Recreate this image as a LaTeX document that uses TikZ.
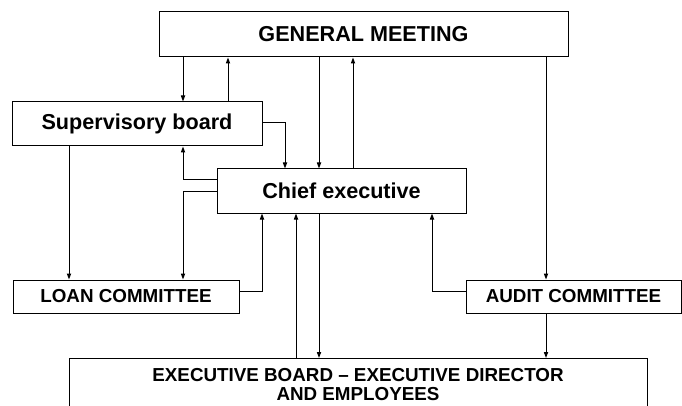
\documentclass[tikz,border=0pt]{standalone}
\usepackage{fontspec}
\setmainfont{Liberation Sans}
\usetikzlibrary{arrows.meta}
\tikzset{
  box/.style={draw=black, line width=1pt, fill=white, inner sep=0pt, font=\bfseries},
  bigtxt/.style={font=\fontsize{21.6}{23}\selectfont\bfseries},
  smalltxt/.style={font=\fontsize{18.8}{18.6}\selectfont\bfseries},
  arr/.style={draw=black, line width=1pt, -{Triangle[length=6pt,width=4.2pt]}},
  ln/.style={draw=black, line width=1pt}
}
\begin{document}
\begin{tikzpicture}[x=1pt,y=-1pt]
\useasboundingbox (0,0) rectangle (682,406);
\clip (0,0) rectangle (682,406);
% x positions of vertical connectors
\coordinate (xa) at (183,0);
\coordinate (xb) at (228,0);
\coordinate (xc) at (285,0);
\coordinate (xd) at (319,0);
\coordinate (xe) at (353,0);
\coordinate (xf) at (546,0);
\coordinate (xg) at (69,0);
\coordinate (xh) at (262,0);
\coordinate (xi) at (296,0);
\coordinate (xj) at (432,0);
% y levels
\coordinate (yup) at (0,180);
\coordinate (ycom) at (0,291);
\coordinate (ysb) at (0,123);
% nodes
\node[box, bigtxt, minimum width=409pt, minimum height=45pt] (GM) at (363.5,34.5) {GENERAL MEETING};
\node[box, bigtxt, minimum width=250pt, minimum height=44pt] (SB) at (137,124) {Supervisory board};
\node[box, bigtxt, minimum width=249pt, minimum height=44pt] (CE) at (341.5,191) {Chief executive};
\node[box, smalltxt, minimum width=226pt, minimum height=33pt] (LC) at (126,296.5) {LOAN COMMITTEE};
\node[box, smalltxt, minimum width=215pt, minimum height=33pt] (AC) at (573.5,296.5) {AUDIT COMMITTEE};
\node[box, minimum width=578pt, minimum height=70pt, anchor=north] (EB) at (358,358) {};
\node[smalltxt, align=center, inner sep=0pt] (EBtxt) at (358,384.5) {EXECUTIVE BOARD -- EXECUTIVE DIRECTOR\\AND EMPLOYEES};
% connectors
\draw[arr] (GM.south -| xa) -- (SB.north -| xa);
\draw[arr] (SB.north -| xb) -- (GM.south -| xb);
\draw[arr] (SB.east |- ysb) -| (CE.north -| xc);
\draw[arr] (GM.south -| xd) -- (CE.north -| xd);
\draw[arr] (CE.north -| xe) -- (GM.south -| xe);
\draw[arr] (GM.south -| xf) -- (AC.north -| xf);
\draw[arr] (CE.west |- yup) -| (SB.south -| xa);
\draw[arr] (CE.west) -| (LC.north -| xa);
\draw[arr] (SB.south -| xg) -- (LC.north -| xg);
\draw[arr] (LC.east |- ycom) -| (CE.south -| xh);
\draw[arr] (EB.north -| xi) -- (CE.south -| xi);
\draw[arr] (CE.south -| xd) -- (EB.north -| xd);
\draw[arr] (AC.west |- ycom) -| (CE.south -| xj);
\draw[arr] (AC.south -| xf) -- (EB.north -| xf);
\end{tikzpicture}
\end{document}
